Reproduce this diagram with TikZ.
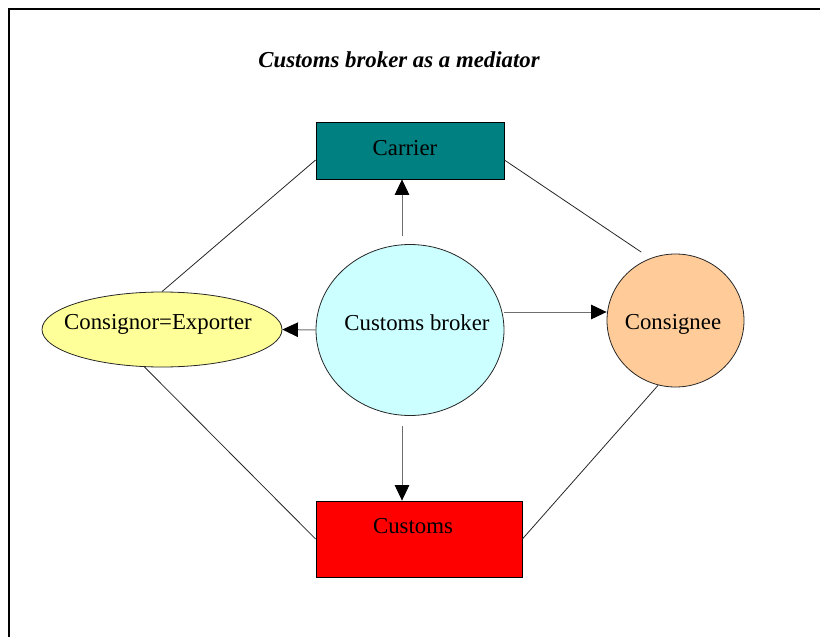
\documentclass[tikz,border=0pt]{standalone}
\usepackage{fontspec}
\setmainfont{Liberation Serif}
\usetikzlibrary{shapes.geometric,arrows.meta}
\definecolor{carrierteal}{RGB}{0,128,128}
\definecolor{brokercyan}{RGB}{204,255,255}
\definecolor{consignoryellow}{RGB}{255,255,153}
\definecolor{consigneepeach}{RGB}{255,204,153}
\definecolor{customsred}{RGB}{255,0,0}
\definecolor{arrowgray}{RGB}{110,110,110}
% #1 = twice the horizontal offset, #2 = baseline raise, #3 = text
\newcommand\placetxt[3]{\makebox[0pt]{\hspace*{#1}\raisebox{#2}[0pt][0pt]{#3}}}
\begin{document}
\begin{tikzpicture}[x=1pt,y=-1pt,
  every node/.style={font=\fontsize{22.8}{27}\selectfont, inner sep=0pt},
  boxnode/.style={draw=black, line width=0.8pt, rectangle},
  ovalnode/.style={draw=black!85, line width=0.8pt, ellipse},
  arr/.style={draw=arrowgray, line width=1pt, -{Triangle[length=15.5pt,width=14.5pt,color=black]}},
  link/.style={draw=black!85, line width=0.8pt}
]
\useasboundingbox (0,0) rectangle (820,637);
% frame
\draw[line width=2pt] (9,637) -- (9,8.5) -- (820,8.5);
% title
\node (title) at (399,60) {\bfseries\itshape Customs broker as a mediator};
% nodes
\node[boxnode, fill=carrierteal, minimum width=188pt, minimum height=57pt] (carrier) at (410,150.5) {\placetxt{-10pt}{-4.5pt}{Carrier}};
\node[ovalnode, fill=brokercyan, minimum width=188pt, minimum height=171pt] (broker) at (410,330) {\placetxt{14pt}{0pt}{Customs broker}};
\node[ovalnode, fill=consignoryellow, minimum width=240pt, minimum height=75pt] (consignor) at (162,329.5) {\placetxt{-8pt}{0pt}{Consignor=Exporter}};
\node[ovalnode, fill=consigneepeach, minimum width=137pt, minimum height=133pt] (consignee) at (675.5,320.5) {\placetxt{-5pt}{-8.5pt}{Consignee}};
\node[boxnode, fill=customsred, minimum width=206pt, minimum height=76pt] (customs) at (419,539) {\placetxt{-12pt}{6pt}{Customs}};
% arrows from the broker
\draw[arr, shorten <=8pt] ([xshift=-8pt]broker.north) -- ([xshift=-8pt]carrier.south);
\draw[arr, shorten <=10pt] ([xshift=-8pt]broker.south) -- ([xshift=-17pt]customs.north);
\draw[arr] (broker.west) -- (consignor.east);
\draw[arr] ([yshift=18pt]broker.east) -- ([yshift=8.5pt]consignee.west);
% outer links
\draw[link] ([yshift=-9.5pt]carrier.west) -- (consignor.north);
\draw[link, shorten >=11pt] ([yshift=-9.5pt]carrier.east) -- (consignee.112.7);
\draw[link] (consignor.245) -- (customs.west);
\draw[link] (customs.east) -- (consignee.255);
\end{tikzpicture}
\end{document}
